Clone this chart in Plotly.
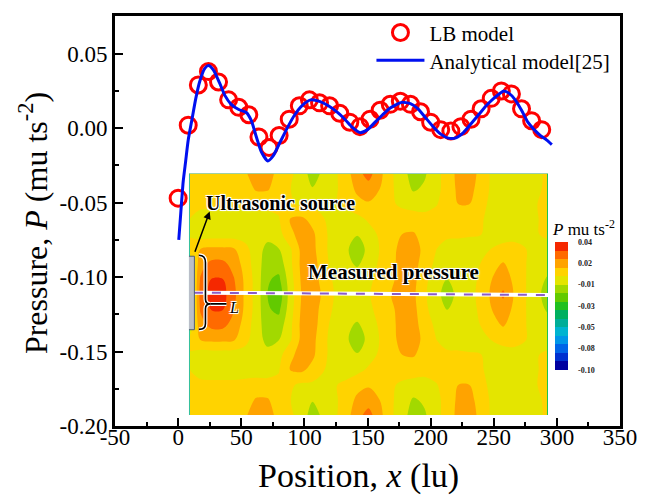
import plotly.graph_objects as go

# ---------------- data ----------------
LB_X = [0, 8, 16, 24, 32, 40, 48, 56, 64, 72, 80, 88, 96, 104, 112, 120, 128, 136,
        144, 152, 160, 168, 176, 184, 192, 200, 208, 216, 224, 232, 240, 248, 256,
        264, 272, 280, 288]
LB_P = [-0.047, 0.002, 0.029, 0.038, 0.031, 0.019, 0.014, 0.009, -0.006, -0.013,
        -0.005, 0.006, 0.015, 0.019, 0.017, 0.015, 0.010, 0.004, 0.001, 0.006,
        0.012, 0.016, 0.018, 0.016, 0.011, 0.004, -0.001, -0.002, 0.001, 0.006,
        0.013, 0.020, 0.025, 0.023, 0.013, 0.005, -0.001]

AN_X = [0.5, 2, 4, 6, 8, 11, 14, 17, 21, 24, 28, 33, 37, 42, 48, 54, 58, 62, 66, 71,
        75, 81, 87, 92, 98, 105, 112, 119, 126, 132, 138, 144, 150, 156, 162, 168,
        177, 184, 190, 196, 202, 208, 214, 220, 226, 232, 238, 244, 250, 258, 262,
        267, 272, 277, 282, 287, 292, 296]
AN_P = [-0.075, -0.058, -0.036, -0.022, -0.008, 0.006, 0.020, 0.031, 0.040, 0.042,
        0.039, 0.030, 0.022, 0.016, 0.0125, 0.0105, 0.005, -0.006, -0.016, -0.022,
        -0.019, -0.009, 0.001, 0.0085, 0.015, 0.019, 0.018, 0.015, 0.0107, 0.006,
        0.0005, -0.003, -0.001, 0.004, 0.009, 0.0135, 0.0173, 0.0165, 0.013, 0.007,
        0.001, -0.004, -0.0067, -0.0065, -0.003, 0.003, 0.009, 0.015, 0.020, 0.025,
        0.0235, 0.019, 0.012, 0.004, -0.001, -0.005, -0.008, -0.011]

X_TICKS = [-50, 0, 50, 100, 150, 200, 250, 300, 350]
X_TICK_TEXT = ["-50", "0", "50", "100", "150", "200", "250", "300", "350"]
X_MINOR = [-25, 25, 75, 125, 175, 225, 275, 325]
Y_TICKS = [-0.20, -0.15, -0.10, -0.05, 0.00, 0.05]
Y_TICK_TEXT = ["-0.20", "-0.15", "-0.10", "-0.05", "0.00", "0.05"]
Y_MINOR = [-0.175, -0.125, -0.075, -0.025, 0.025]

CB_TICKS = [-0.10, -0.07667, -0.05333, -0.03, -0.00667, 0.01667, 0.04]
CB_TICK_TEXT = ["-0.10", "-0.08", "-0.05", "-0.03", "-0.01", "0.02", "0.04"]
CB_MIN, CB_MAX, CB_BANDS = -0.10, 0.04, 15
CB_COLORS = ["#0000A0", "#0030D0", "#0064E8", "#0096E8", "#00B4D0", "#00AE98",
             "#00B060", "#20C020", "#62CA00", "#A2D900", "#E4E500", "#FFD300",
             "#FFA300", "#FF6A00", "#F52800"]

# inset pressure snapshot, rows from top to bottom, units of 1e-3 mu ts^-2
FIELD_MILLI = [
    [6, 7, 7, 7, 8, 11, 16, 16, 9, 4, 0, -12, -4, 1, 8, 18, 25, 15, 4, -2, -12, -8, 0, 6, 15, 17, 9, 1, -1, -2, -2, 0, 5],
    [6, 6, 6, 6, 6, 8, 13, 13, 7, 3, -1, -6, -3, 1, 7, 14, 17, 12, 4, -1, -8, -5, 0, 6, 14, 15, 8, 1, -1, -2, -2, 0, 6],
    [6, 5, 5, 5, 5, 6, 6, 5, 5, 4, 1, 1, 1, 2, 5, 9, 11, 8, 4, 1, 0, 0, 2, 6, 12, 12, 6, 0, -1, -2, -2, 2, 13],
    [3, -1, -2, -2, -2, -2, -1, 0, 2, 12, 14, 9, 3, -2, -2, 0, 4, 6, 6, 7, 6, 5, 6, 7, 7, 6, 4, -1, -2, -2, -2, 1, 11],
    [2, -2, -2, -2, -2, -2, -3, -4, -1, 10, 15, 14, 5, -2, -3, -6, -1, 4, 7, 12, 13, 8, 6, 5, 5, 4, 3, -1, -2, -1, -1, 2, 5],
    [5, 12, 14, 14, 13, 6, -3, -9, -7, 1, 14, 15, 5, -2, -5, -12, -4, 3, 8, 16, 17, 9, 3, -2, -3, -3, -1, 3, 6, 6, 3, -2, -2],
    [-10, 18, 24, 24, 18, 8, -2, -12, -12, 0, 14, 17, 6, -1, -4, -8, -2, 4, 9, 16, 16, 7, 1, -3, -3, -1, 3, 9, 13, 8, 3, -2, -3],
    [-12, 22, 31, 31, 22, 10, -1, -15, -18, -2, 13, 17, 8, 1, -1, -1, 1, 5, 10, 16, 15, 5, -2, -7, -3, 0, 4, 12, 17, 10, 3, -3, -8],
    [-14, 24, 34, 34, 24, 10, -1, -16, -22, -3, 12, 18, 10, 2, 0, 0, 2, 6, 12, 17, 14, 4, -3, -11, -4, 0, 5, 14, 23, 11, 3, -4, -11],
    [-12, 22, 31, 31, 22, 10, -1, -15, -18, -2, 13, 17, 8, 1, -1, -1, 1, 5, 10, 16, 15, 5, -2, -7, -3, 0, 4, 12, 17, 10, 3, -3, -8],
    [-10, 18, 24, 24, 18, 8, -2, -12, -12, 0, 14, 17, 6, -1, -4, -8, -2, 4, 9, 16, 16, 7, 1, -3, -3, -1, 3, 9, 13, 8, 3, -2, -3],
    [5, 12, 14, 14, 13, 6, -3, -9, -7, 1, 14, 15, 5, -2, -5, -12, -4, 3, 8, 16, 17, 9, 3, -2, -3, -3, -1, 3, 6, 6, 3, -2, -2],
    [2, -2, -2, -2, -2, -2, -3, -4, -1, 10, 15, 14, 5, -2, -3, -6, -1, 4, 7, 12, 13, 8, 6, 5, 5, 4, 3, -1, -2, -1, -1, 2, 5],
    [3, -1, -2, -2, -2, -2, -1, 0, 2, 12, 14, 9, 3, -2, -2, 0, 4, 6, 6, 7, 6, 5, 6, 7, 7, 6, 4, -1, -2, -2, -2, 1, 11],
    [6, 5, 5, 5, 5, 6, 6, 5, 5, 4, 1, 1, 1, 2, 5, 9, 11, 8, 4, 1, 0, 0, 2, 6, 12, 12, 6, 0, -1, -2, -2, 2, 13],
    [6, 6, 6, 6, 6, 8, 13, 13, 7, 3, -1, -6, -3, 1, 7, 14, 17, 12, 4, -1, -8, -5, 0, 6, 14, 15, 8, 1, -1, -2, -2, 0, 6],
    [6, 7, 7, 7, 8, 11, 16, 16, 9, 4, 0, -12, -4, 1, 8, 18, 25, 15, 4, -2, -12, -8, 0, 6, 15, 17, 9, 1, -1, -2, -2, 0, 5],
]

# ---------------- figure ----------------
SERIF = "Liberation Serif, Times New Roman, serif"
W, H = 649, 496
ML, MR, MT, MB = 115, 22, 13, 70
PW, PH = W - ML - MR, H - MT - MB


def px_x(px):
    return (px - ML) / PW


def px_y(py):
    return (H - MB - py) / PH


ncol = len(FIELD_MILLI[0])
nrow = len(FIELD_MILLI)
inset_u = [i / (ncol - 1) for i in range(ncol)]
inset_v = [1 - j / (nrow - 1) for j in range(nrow)]
field = [[v / 1000.0 for v in row] for row in FIELD_MILLI]

cs = (CB_MAX - CB_MIN) / CB_BANDS
colorscale = [[k / (CB_BANDS - 1), c] for k, c in enumerate(CB_COLORS)]

fig = go.Figure()

fig.add_trace(go.Scatter(
    x=LB_X, y=LB_P, mode="markers", name="LB model", legend="legend",
    marker=dict(symbol="circle-open", size=16, color="#FF0000",
                line=dict(width=3, color="#FF0000")),
))
fig.add_trace(go.Scatter(
    x=AN_X, y=AN_P, mode="lines", name="Analytical model[25]", legend="legend2",
    line=dict(color="#0010F0", width=3, shape="spline", smoothing=0.6),
))

fig.add_trace(go.Contour(
    x=inset_u, y=inset_v, z=field, xaxis="x2", yaxis="y2",
    autocontour=False,
    contours=dict(start=CB_MIN + cs, end=CB_MAX - cs, size=cs,
                  coloring="fill", showlines=False),
    line=dict(width=0, smoothing=1.0),
    colorscale=colorscale, zmin=CB_MIN, zmax=CB_MAX,
    showlegend=False, hoverinfo="skip",
    colorbar=dict(
        x=px_x(561), xanchor="left", xpad=0,
        y=px_y(305), yanchor="middle", ypad=0,
        len=128, lenmode="pixels", thickness=13, thicknessmode="pixels",
        outlinewidth=0,
        tickmode="array", tickvals=CB_TICKS, ticktext=CB_TICK_TEXT,
        ticks="outside", ticklen=9, tickcolor="rgba(0,0,0,0)",
        tickfont=dict(family=SERIF, size=8, color="#222", weight="bold"),
    ),
))

halo = "-1px -1px 0 #fff, 1px -1px 0 #fff, -1px 1px 0 #fff, 1px 1px 0 #fff, 0 0 3px #fff"

# inset placement (pixels in the picture)
IX0, IX1, IY0, IY1 = 190, 554, 172, 415


def ix(px):
    return (px - IX0) / (IX1 - IX0)


def iy(py):
    return (IY1 - py) / (IY1 - IY0)


shapes = [
    dict(type="line", xref="x2", yref="y2", x0=0, x1=0, y0=0, y1=1,
         line=dict(color="#30C0A0", width=2)),
    dict(type="line", xref="x2", yref="y2", x0=1, x1=1, y0=0, y1=1,
         line=dict(color="#20C050", width=2)),
    dict(type="line", xref="x2", yref="y2", x0=ix(195), x1=1, y0=iy(291.7), y1=iy(294),
         line=dict(color="white", width=4)),
    dict(type="line", xref="x2", yref="y2", x0=ix(195), x1=1, y0=iy(291.7), y1=iy(294),
         line=dict(color="#8A5CC8", width=2, dash="dash")),
    dict(type="rect", xref="x2", yref="y2", x0=ix(189), x1=ix(195.5), y0=iy(329), y1=iy(255),
         fillcolor="#B9BEC8", line=dict(color="#4E5E74", width=1)),
]

brace = ("M {a},{t} Q {b},{t} {b},{t2} L {b},{m1} Q {b},{m} {c},{m} "
         "Q {b},{m} {b},{m2} L {b},{b2} Q {b},{bt} {a},{bt}").format(
    a=ix(200), b=ix(206.7), c=ix(211.7),
    t=iy(254), t2=iy(261.3), m1=iy(298), m=iy(303), m2=iy(308), b2=iy(323), bt=iy(328.7))
for col, wd in (("white", 4), ("black", 1.6)):
    shapes.append(dict(type="path", xref="x2", yref="y2", path=brace,
                       line=dict(color=col, width=wd)))
    shapes.append(dict(type="line", xref="x2", yref="y2", x0=ix(211.7), x1=ix(228),
                       y0=iy(303), y1=iy(303), line=dict(color=col, width=wd)))

annotations = [
    dict(text="Position, <i>x</i> (lu)", xref="paper", yref="paper",
         x=px_x(361.5), y=px_y(476), xanchor="center", yanchor="middle",
         showarrow=False, font=dict(family=SERIF, size=34, color="black")),
    dict(text="Pressure, <i>P</i> (mu ts<sup>-2</sup>)", xref="paper", yref="paper",
         x=px_x(32), y=px_y(221.5), xanchor="center", yanchor="middle", textangle=-90,
         showarrow=False, font=dict(family=SERIF, size=32, color="black")),
    dict(text="<b>Ultrasonic source</b>", xref="x2", yref="y2",
         x=ix(282.5), y=iy(201), xanchor="center", yanchor="middle", showarrow=False,
         font=dict(family=SERIF, size=20, color="black", shadow=halo)),
    dict(text="<b>Measured pressure</b>", xref="x2", yref="y2",
         x=ix(397.5), y=iy(270.8), xanchor="center", yanchor="middle", showarrow=False,
         font=dict(family=SERIF, size=21, color="black", shadow=halo)),
    dict(text="<i>L</i>", xref="x2", yref="y2",
         x=ix(235.5), y=iy(306.5), xanchor="center", yanchor="middle", showarrow=False,
         font=dict(family=SERIF, size=16, color="black", shadow=halo)),
    dict(text="", xref="x2", yref="y2", x=ix(211), y=iy(210),
         axref="x2", ayref="y2", ax=ix(195.5), ay=iy(252),
         showarrow=True, arrowhead=2, arrowsize=1, arrowwidth=1.5, arrowcolor="black"),
    dict(text="<i>P</i> mu ts<sup>-2</sup>", xref="paper", yref="paper",
         x=px_x(590.5), y=px_y(227), xanchor="center", yanchor="middle", showarrow=False,
         font=dict(family=SERIF, size=17, color="black")),
]

axis_common = dict(showgrid=False, zeroline=False, showline=True, linecolor="black",
                   linewidth=3, mirror=True, ticks="inside", ticklen=8, tickwidth=2,
                   tickcolor="black", tickfont=dict(family=SERIF, size=23, color="black"))

legend_common = dict(xanchor="left", yanchor="middle", bgcolor="rgba(0,0,0,0)",
                     font=dict(family=SERIF, size=21, color="black"), itemwidth=48,
                     borderwidth=0)

fig.update_layout(
    width=W, height=H,
    margin=dict(l=ML, r=MR, t=MT, b=MB),
    paper_bgcolor="white", plot_bgcolor="white",
    xaxis=dict(range=[-50, 350], tickmode="array", tickvals=X_TICKS, ticktext=X_TICK_TEXT,
               minor=dict(tickmode="array", tickvals=X_MINOR, ticks="inside", ticklen=4,
                          tickwidth=2, tickcolor="black"),
               ticklabelstandoff=-12,
               **axis_common),
    yaxis=dict(range=[-0.2, 0.0753], tickmode="array", tickvals=Y_TICKS, ticktext=Y_TICK_TEXT,
               minor=dict(tickmode="array", tickvals=Y_MINOR, ticks="inside", ticklen=4,
                          tickwidth=2, tickcolor="black"),
               ticklabelstandoff=0,
               **axis_common),
    xaxis2=dict(domain=[px_x(IX0), px_x(IX1)], range=[0, 1], visible=False,
                anchor="y2", fixedrange=True),
    yaxis2=dict(domain=[px_y(IY1), px_y(IY0)], range=[0, 1], visible=False,
                anchor="x2", fixedrange=True),
    legend=dict(x=px_x(375), y=px_y(30), **legend_common),
    legend2=dict(x=px_x(375), y=px_y(58), **legend_common),
    showlegend=True,
    shapes=shapes,
    annotations=annotations,
)

fig.write_html("out.html", config={"displayModeBar": False},
               post_script="document.body.style.margin='0px';")
